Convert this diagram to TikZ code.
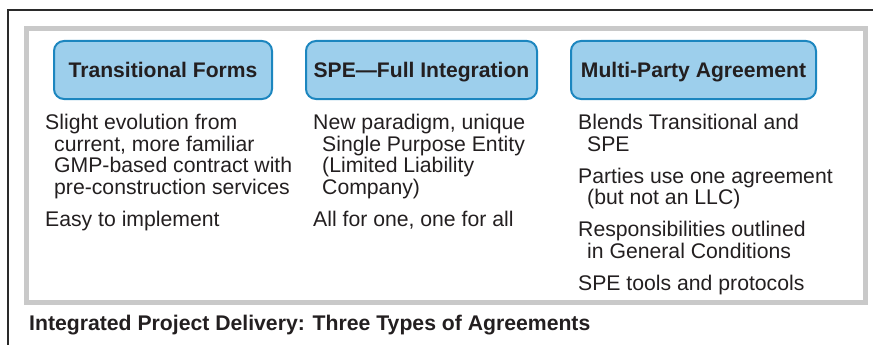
\documentclass[tikz,border=0pt]{standalone}
\usepackage{fontspec}
\setmainfont{Liberation Sans}
\definecolor{txt}{HTML}{231F20}
\definecolor{boxfill}{HTML}{9DCFEC}
\definecolor{boxline}{HTML}{1C86BF}
\definecolor{frame}{HTML}{C9C9C9}
\definecolor{outer}{HTML}{2A2A2A}
\tikzset{
  headbox/.style={draw=boxline, fill=boxfill, line width=2pt, rounded corners=10pt,
    minimum height=58pt, inner sep=0pt, text height=15pt, text depth=0pt,
    font=\fontsize{21.1}{21}\selectfont\bfseries, text=txt},
  bodytext/.style={anchor=base west, inner sep=0pt, font=\fontsize{21.2}{21.5}\selectfont, text=txt},
  captext/.style={anchor=base west, inner sep=0pt, font=\fontsize{21.2}{21}\selectfont\bfseries, text=txt}
}
\newcommand\plines[1]{\vtop{\baselineskip=21.5pt\lineskiplimit=-20pt #1}}
\newcommand\pfirst[1]{\hbox{#1}}
\newcommand\pnext[1]{\hbox{\hspace*{9pt}#1}}
\begin{document}
\begin{tikzpicture}[x=1pt,y=-1pt]
\useasboundingbox (0,0) rectangle (873,345);
% outer frame lines
\draw[outer, line width=1.3pt] (8,345) -- (8,10) -- (873,10);
% gray frame
\draw[frame, line width=5pt] (26.5,28.5) rectangle (865.5,302.5);
% heading boxes
\node[headbox, minimum width=218pt] (h1) at (163,70) {Transitional Forms};
\node[headbox, minimum width=231pt] (h2) at (421.5,70) {SPE---Full Integration};
\node[headbox, minimum width=245pt] (h3) at (693.5,70) {Multi-Party Agreement};
% column 1
\node[bodytext] (c1a) at (45,129.5) {\plines{\pfirst{Slight evolution from}\pnext{current, more familiar}\pnext{GMP-based contract with}\pnext{pre-construction services}}};
\node[bodytext] (c1b) at (45,226) {\plines{\pfirst{Easy to implement}}};
% column 2
\node[bodytext] (c2a) at (313,129.5) {\plines{\pfirst{New paradigm, unique}\pnext{Single Purpose Entity}\pnext{(Limited Liability}\pnext{Company)}}};
\node[bodytext] (c2b) at (313,226) {\plines{\pfirst{All for one, one for all}}};
% column 3
\node[bodytext] (c3a) at (578,129.5) {\plines{\pfirst{Blends Transitional and}\pnext{SPE}}};
\node[bodytext] (c3b) at (578,183) {\plines{\pfirst{Parties use one agreement}\pnext{(but not an LLC)}}};
\node[bodytext] (c3c) at (578,236.5) {\plines{\pfirst{Responsibilities outlined}\pnext{in General Conditions}}};
\node[bodytext] (c3d) at (578,290) {\plines{\pfirst{SPE tools and protocols}}};
% caption
\node[captext] (cap) at (29,330) {Integrated Project Delivery: Three Types of Agreements};
\end{tikzpicture}
\end{document}
